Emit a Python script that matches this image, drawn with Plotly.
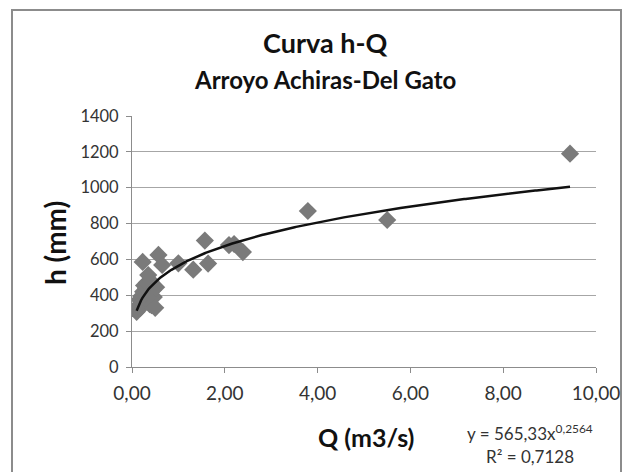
import numpy as np
import plotly.graph_objects as go

# Data
q_values = [0.10, 0.13, 0.16, 0.18, 0.20, 0.22, 0.24, 0.26, 0.28, 0.30, 0.32, 0.35, 0.36, 0.38, 0.40, 0.42, 0.45, 0.47, 0.50, 0.52,
            0.23, 0.57, 0.65, 1.00, 1.32, 1.64, 1.57, 2.09, 2.20, 2.39, 3.79, 5.50, 9.44]
h_values = [308, 340, 375, 330, 395, 360, 420, 455, 400, 440, 470, 513, 380, 350, 480, 345, 430, 390, 330, 445,
            586, 625, 569, 578, 543, 577, 705, 680, 686, 641, 870, 820, 1190]

# Trendline coefficients shown on the chart: y = a * x^b
fit_a = 565.33
fit_b = 0.2564
eq_text = "y = 565,33x<sup>0,2564</sup>"
r2_text = "R² = 0,7128"

x_ticks = [0, 2, 4, 6, 8, 10]
x_ticktext = ["0,00", "2,00", "4,00", "6,00", "8,00", "10,00"]
y_ticks = [0, 200, 400, 600, 800, 1000, 1200, 1400]

title_text = "Curva h-Q"
subtitle_text = "Arroyo Achiras-Del Gato"
x_title = "Q (m3/s)"
y_title = "h (mm)"

FONT = "Lato, 'Open Sans', sans-serif"

xs = np.linspace(min(q_values), max(q_values), 300)
ys = fit_a * xs ** fit_b

fig = go.Figure()
fig.add_trace(go.Scatter(x=q_values, y=h_values, mode="markers",
                         marker=dict(symbol="diamond", size=14, color="#7a7a7a"),
                         showlegend=False, hoverinfo="skip"))
fig.add_trace(go.Scatter(x=xs, y=ys, mode="lines",
                         line=dict(color="#111111", width=2.5),
                         showlegend=False, hoverinfo="skip"))

L, R, T, B = 132, 596, 116, 367
W, H = 631, 472

fig.update_layout(
    width=W, height=H,
    margin=dict(l=L, r=W - R, t=T, b=H - B),
    paper_bgcolor="white", plot_bgcolor="white",
    font=dict(family=FONT, color="#333333"),
)
fig.update_xaxes(range=[0, 10], tickvals=x_ticks, ticktext=x_ticktext,
                 showgrid=False, zeroline=False,
                 showline=True, linecolor="#8c8c8c", linewidth=1,
                 ticks="outside", ticklen=5, tickcolor="#8c8c8c",
                 ticklabelstandoff=4,
                 tickfont=dict(size=19, color="#333333", family=FONT))
fig.update_yaxes(range=[0, 1400], tickvals=y_ticks,
                 showgrid=True, gridcolor="#a6a6a6", gridwidth=1, zeroline=False,
                 showline=True, linecolor="#8c8c8c", linewidth=1,
                 ticks="outside", ticklen=5, tickcolor="#8c8c8c",
                 ticklabelstandoff=4,
                 tickfont=dict(size=16.5, color="#333333", family=FONT))


def px_x(p):
    return (p - L) / (R - L)


def px_y(p):
    return (B - p) / (B - T)


def note(text, x, y, size, color="#111111", angle=0):
    fig.add_annotation(text=text, xref="paper", yref="paper", x=px_x(x), y=px_y(y),
                       showarrow=False, textangle=angle,
                       font=dict(size=size, color=color, family=FONT),
                       xanchor="center", yanchor="middle")


note(f"<b>{title_text}</b>", 325, 42, 27)
note(f"<b>{subtitle_text}</b>", 325, 80, 24)
note(f"<b>{x_title}</b>", 366, 437, 25)
note(f"<b>{y_title}</b>", 55, 243, 28, angle=-90)
note(eq_text, 530, 432, 17, color="#333333")
note(r2_text, 530, 456, 17, color="#333333")

# Outer chart border
fig.add_shape(type="rect", xref="paper", yref="paper",
              x0=px_x(12), x1=px_x(621), y0=px_y(480), y1=px_y(10),
              line=dict(color="#8c8c8c", width=2), fillcolor="rgba(0,0,0,0)", layer="below")

fig.write_html("out.html")
